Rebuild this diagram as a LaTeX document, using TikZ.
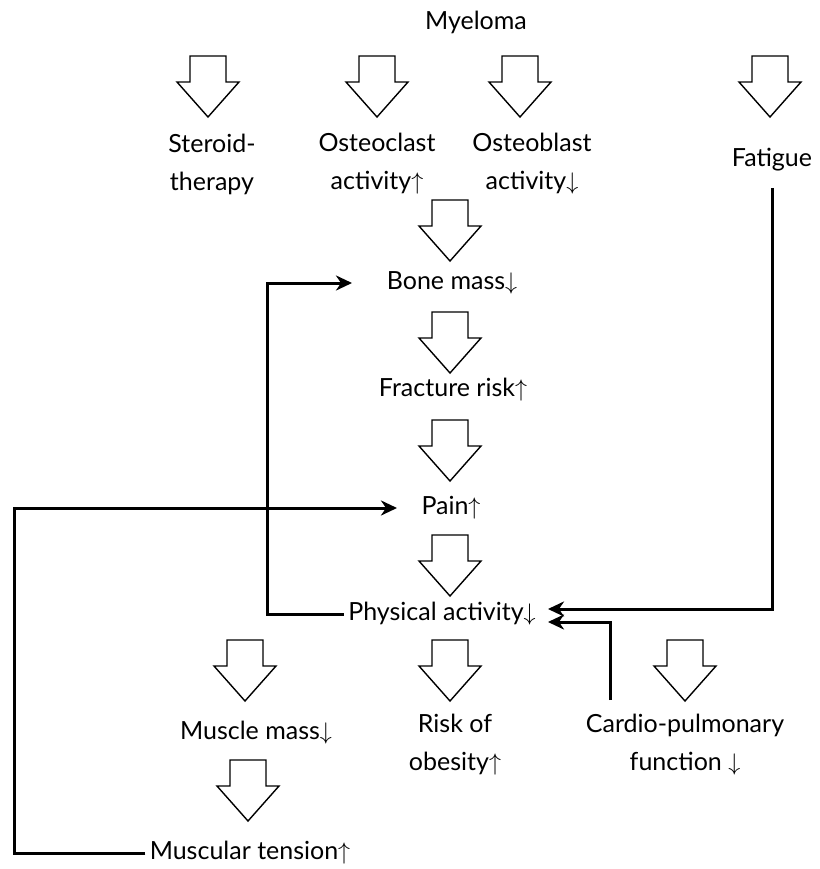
\documentclass[tikz,border=0pt]{standalone}
\usepackage{fontspec}
\setmainfont{Lato}
\usepackage{tikz}
\usetikzlibrary{arrows.meta,positioning}

\tikzset{
  label/.style={font=\fontsize{12.5}{19}\selectfont, align=center, inner sep=2pt},
  conn/.style={line width=1.5pt, -{Stealth[length=8pt,width=7.5pt,inset=2.5pt]}},
  blockarrow/.pic={
    \draw[line width=0.7pt, line join=miter, fill=white]
      (-18,0) -- (18,0) -- (18,26) -- (31,26) -- (0,61) -- (-31,26) -- (-18,26) -- cycle;
  }
}

\begin{document}
\begin{tikzpicture}[x=0.5pt, y=-0.5pt]
  \useasboundingbox (0,0) rectangle (820,869);

  % top row
  \node (myeloma) [label] at (476,22) {Myeloma};
  \pic at (208,56) {blockarrow};
  \pic at (377,56) {blockarrow};
  \pic at (520,56) {blockarrow};
  \pic at (770,56) {blockarrow};
  \node (steroid) [label] at (212,164) {Steroid-\\therapy};
  \node (osteoclast) [label] at (377,164) {Osteoclast\\activity$\uparrow$};
  \node (osteoblast) [label] at (532,164) {Osteoblast\\activity$\downarrow$};
  \node (fatigue) [label] at (772,160) {Fatigue};

  % main chain
  \pic at (450,200) {blockarrow};
  \node (bonemass) [label] at (452,283) {Bone mass$\downarrow$};
  \pic at (450,312) {blockarrow};
  \node (fracture) [label] at (453,390) {Fracture risk$\uparrow$};
  \pic at (450,420) {blockarrow};
  \node (pain) [label] at (451,508) {Pain$\uparrow$};
  \pic at (450,535) {blockarrow};
  \node (physact) [label] at (442,614) {Physical activity$\downarrow$};

  % bottom row
  \pic at (245,640) {blockarrow};
  \pic at (450,640) {blockarrow};
  \pic at (685,640) {blockarrow};
  \node (musclemass) [label] at (256,733) {Muscle mass$\downarrow$};
  \node (obesity) [label] at (455,745) {Risk of\\obesity$\uparrow$};
  \node (cardio) [label] at (685,745) {Cardio-pulmonary\\function $\downarrow$};
  \pic at (248,760) {blockarrow};
  \node (tension) [label] at (250,853) {Muscular tension$\uparrow$};

  % feedback lines
  \coordinate (fatin) at (548,609);
  \coordinate (cardin) at (548,622);
  \coordinate (cardfoot) at (610,700);
  \coordinate (bonein) at (352,283);
  \coordinate (painin) at (397,508);
  \draw[conn] ([yshift=-6pt]fatigue.south) |- (fatin);
  \draw[conn] (cardfoot) |- (cardin);
  \draw[conn] (physact.west) -- ++(-76,0) |- (bonein);
  \draw[conn] (tension.west) -- ++(-131,0) |- (painin);
\end{tikzpicture}
\end{document}
